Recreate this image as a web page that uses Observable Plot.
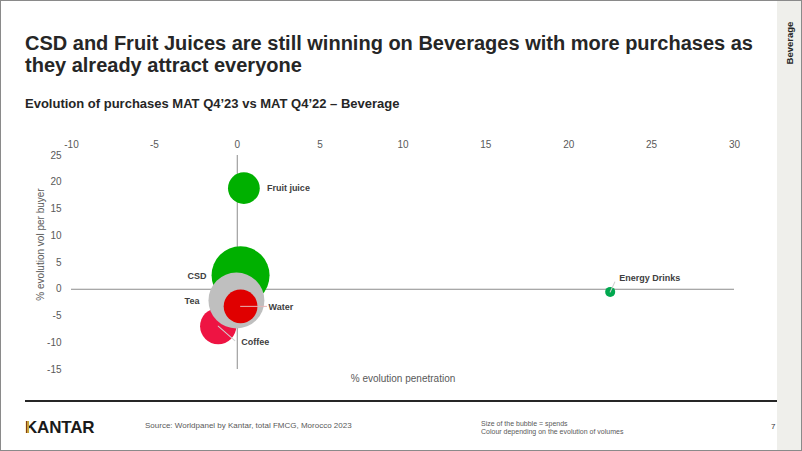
<!DOCTYPE html>
<html><head><meta charset="utf-8">
<script src="https://cdn.jsdelivr.net/npm/d3@7"></script>
<script src="https://cdn.jsdelivr.net/npm/@observablehq/plot@0.6"></script>
<style>
html,body{margin:0;padding:0;background:#fff;}
#slide{position:relative;width:802px;height:451px;overflow:hidden;font-family:"Liberation Sans",Arial,sans-serif;background:#fff;}
#frame{position:absolute;left:0;top:0;width:802px;height:451px;box-sizing:border-box;border:1px solid #8a8a8a;pointer-events:none;z-index:10;}
.abs{position:absolute;white-space:nowrap;}
#title{left:25px;top:32px;font-size:20px;line-height:22px;font-weight:bold;color:#262626;}
#subtitle{left:25px;top:95.5px;font-size:13px;line-height:16px;font-weight:bold;color:#262626;}
#sidebar{left:777px;top:0;width:25px;height:451px;background:#efefeb;}
#sidetext{left:760px;top:37px;width:60px;height:12px;line-height:12px;text-align:center;font-size:9.5px;font-weight:bold;color:#262626;transform:rotate(-90deg);transform-origin:center;}
#rule{left:25px;top:400px;width:752px;height:2px;background:#262626;}
#logo{left:25px;top:418.6px;font-size:17px;line-height:17px;font-weight:bold;color:#1a1a1a;letter-spacing:-0.2px;}
#logobar{left:26.6px;top:420.5px;width:2px;height:12.3px;background:#c9a23a;}
#source{left:145px;top:421px;font-size:8px;line-height:10px;color:#595959;}
#note{left:481px;top:419.8px;font-size:7px;line-height:8.5px;color:#595959;}
#page{left:771px;top:421.5px;font-size:8px;line-height:10px;color:#333;}
#chart{left:0;top:120px;}
</style>
</head><body>
<div id="slide">
  <div class="abs" id="sidebar"></div>
  <div class="abs" id="sidetext">Beverage</div>
  <div class="abs" id="title">CSD and Fruit Juices are still winning on Beverages with more purchases as<br>they already attract everyone</div>
  <div class="abs" id="subtitle">Evolution of purchases MAT Q4’23 vs MAT Q4’22 – Beverage</div>
  <div class="abs" id="chart"></div>
  <div class="abs" id="rule"></div>
  <div class="abs" id="logo">KANTAR</div>
  <div class="abs" id="logobar"></div>
  <div class="abs" id="source">Source: Worldpanel by Kantar, total FMCG, Morocco 2023</div>
  <div class="abs" id="note">Size of the bubble = spends<br>Colour depending on the evolution of volumes</div>
  <div class="abs" id="page">7</div>
  <div id="frame"></div>
</div>
<script>
// ---- data ----
const names       = ["Fruit juice", "CSD", "Coffee", "Tea", "Water", "Energy Drinks"];
const penetration = [0.4, 0.2, -1.15, -0.05, 0.2, 22.5];   // % evolution penetration (x)
const volPerBuyer = [18.9, 2.6, -6.9, -2.1, -3.2, -0.5];   // % evolution vol per buyer (y)
const spends      = [30, 100, 39, 93, 34, 3];              // relative spends (bubble size)
const xTicks = [-10, -5, 0, 5, 10, 15, 20, 25, 30];
const yTicks = [-15, -10, -5, 0, 5, 10, 15, 20, 25];

// ---- styles ----
const colourOf = {
  "Fruit juice": "#00b000", "CSD": "#00b000", "Coffee": "#ee1443",
  "Tea": "#bfbfbf", "Water": "#e00000", "Energy Drinks": "#00a84f"
};
const labelStyle = {
  "Fruit juice":   {dx: 23,  dy: 0,   anchor: "start"},
  "CSD":           {dx: -34, dy: 1,   anchor: "end"},
  "Tea":           {dx: -37, dy: 0.5, anchor: "end"},
  "Water":         {dx: 28,  dy: 1,   anchor: "start", leader: {len: 26, rot: 90,  stroke: "#e8b4b4"}},
  "Coffee":        {dx: 23,  dy: 16,  anchor: "start", leader: {len: 22, rot: 131, stroke: "#d0d0d0"}},
  "Energy Drinks": {dx: 9,   dy: -14, anchor: "start", leader: {len: 11, rot: 25,  stroke: "#d0d0d0"}}
};

const rows = names.map((name, i) => ({name, x: penetration[i], y: volPerBuyer[i], spend: spends[i]}));
const fmt = d => String(d);
const lineShape = {draw(ctx, l) { ctx.moveTo(0, 0); ctx.lineTo(0, -l); }};

const labelMarks = [];
for (const r of rows) {
  const s = labelStyle[r.name];
  if (s.leader) {
    labelMarks.push(Plot.vector([r], {x: "x", y: "y", length: s.leader.len, rotate: s.leader.rot,
      anchor: "start", shape: lineShape, stroke: s.leader.stroke, strokeWidth: 1}));
  }
  labelMarks.push(Plot.text([r], {x: "x", y: "y", text: "name", dx: s.dx, dy: s.dy,
    textAnchor: s.anchor, fontSize: 9, fontWeight: "bold", fill: "#404040"}));
}

const chart = Plot.plot({
  width: 770, height: 270,
  marginLeft: 71, marginRight: 36, marginTop: 35, marginBottom: 21,
  style: {fontFamily: "Liberation Sans, Arial, sans-serif", fontSize: "10px", color: "#595959", background: "transparent", overflow: "visible"},
  x: {domain: [-10, 30]},
  y: {domain: [-15, 25]},
  r: {range: [0, 29]},
  color: {type: "identity"},
  marks: [
    Plot.axisX(xTicks, {anchor: "top", tickSize: 0, tickPadding: 8, tickFormat: fmt, label: null, fontSize: 10, fill: "#595959"}),
    Plot.axisY(yTicks, {anchor: "left", tickSize: 0, tickPadding: 10, tickFormat: fmt, label: null, fontSize: 10, fill: "#595959"}),
    Plot.ruleY([0], {stroke: "#8c8c8c", strokeWidth: 1}),
    Plot.ruleX([0], {stroke: "#8c8c8c", strokeWidth: 1}),
    Plot.dot(rows, {x: "x", y: "y", r: "spend", fill: d => colourOf[d.name], sort: null}),
    ...labelMarks,
    Plot.text(["% evolution vol per buyer"], {frameAnchor: "left", textAnchor: "middle", lineAnchor: "middle", rotate: -90, dx: -31, dy: -18, text: d => d, fontSize: 10, fill: "#595959"}),
    Plot.text(["% evolution penetration"], {frameAnchor: "bottom", textAnchor: "middle", lineAnchor: "middle", dy: 9, text: d => d, fontSize: 10, fill: "#595959"})
  ]
});
document.getElementById("chart").appendChild(chart);
</script>
</body></html>
